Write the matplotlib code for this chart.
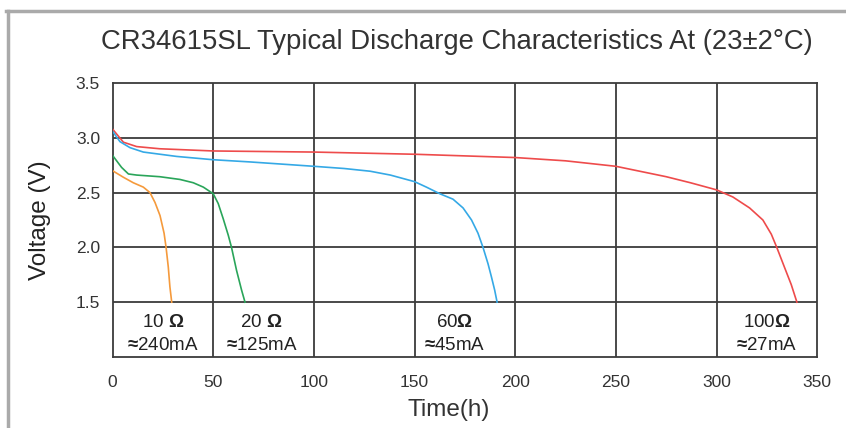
import numpy as np
import matplotlib
matplotlib.use('Agg')
import matplotlib.pyplot as plt
from matplotlib.lines import Line2D

plt.rcParams['font.family'] = ['Liberation Sans', 'DejaVu Sans']
plt.rcParams['mathtext.fontset'] = 'custom'
plt.rcParams['mathtext.rm'] = 'Liberation Sans'
plt.rcParams['mathtext.bf'] = 'Liberation Sans:bold'

###################
### INPUT DATA ###
###################

# 10 ohm load (~240 mA)
t_10 = [0, 5.4, 10.3, 15.3, 18.6, 21.1, 23.6, 25.6, 26.6, 27.7, 28.5, 29.4]
v_10 = [2.70, 2.64, 2.59, 2.55, 2.50, 2.41, 2.29, 2.13, 2.00, 1.82, 1.64, 1.50]

# 20 ohm load (~125 mA)
t_20 = [0, 4.5, 7.9, 12, 23.5, 33.5, 40.1, 45.1, 50, 52.5, 55, 57.5, 59.1,
        61.6, 64.1, 65.8]
v_20 = [2.84, 2.73, 2.67, 2.66, 2.645, 2.62, 2.59, 2.55, 2.49, 2.40, 2.26,
        2.11, 2.00, 1.79, 1.61, 1.50]

# 60 ohm load (~45 mA)
t_60 = [0, 3.7, 8.7, 15.3, 31.9, 50, 68.2, 100, 115, 128, 138, 150, 155.9, 162.5,
        169.1, 174.1, 178.3, 181.5, 184, 186.5, 188.2, 189.8, 191]
v_60 = [3.06, 2.965, 2.91, 2.87, 2.83, 2.80, 2.78, 2.74, 2.72, 2.695, 2.66, 2.60,
        2.55, 2.49, 2.44, 2.36, 2.25, 2.13, 2.00, 1.85, 1.73, 1.61, 1.50]

# 100 ohm load (~27 mA)
t_100 = [0, 5.4, 12, 23.5, 50, 100, 150, 200, 225, 250, 275, 287, 300,
         308.1, 316.4, 323, 327.2, 329.9, 333.7, 337.1, 339.9]
v_100 = [3.08, 2.96, 2.92, 2.90, 2.88, 2.87, 2.85, 2.82, 2.79, 2.74, 2.645,
         2.59, 2.525, 2.46, 2.36, 2.25, 2.12, 2.00, 1.82, 1.66, 1.50]

load_labels = [r'10 $\mathbf{Ω}$', r'20 $\mathbf{Ω}$', r'60$\mathbf{Ω}$', r'100$\mathbf{Ω}$']
current_labels = [r'$\mathbf{≈}$240mA', r'$\mathbf{≈}$125mA', r'$\mathbf{≈}$45mA', r'$\mathbf{≈}$27mA']
label_x = [25, 74, 170, 325]

x_ticks = [0, 50, 100, 150, 200, 250, 300, 350]
y_ticks = [1.5, 2.0, 2.5, 3.0, 3.5]

####################
### PLOT RESULTS ###
####################

fig = plt.figure(figsize=(8.46, 4.28), dpi=100)
ax = fig.add_axes([0.133, 0.166, 0.833, 0.640])

grid_c = '#3c3c3c'
for x in x_ticks[1:-1]:
    ax.axvline(x, color=grid_c, lw=1.3, zorder=1)
for y in y_ticks[:-1]:
    ax.axhline(y, color=grid_c, lw=1.3, zorder=1)

ax.plot(t_100, v_100, color='#ee4b4b', lw=1.2, zorder=3)
ax.plot(t_60, v_60, color='#35a9e6', lw=1.2, zorder=3)
ax.plot(t_20, v_20, color='#2aa55a', lw=1.2, zorder=3)
ax.plot(t_10, v_10, color='#f59a3c', lw=1.2, zorder=3)

for x, l1, l2 in zip(label_x, load_labels, current_labels):
    ax.text(x, 1.31, l1, ha='center', va='center', fontsize=13.5, color='#222222')
    ax.text(x, 1.10, l2, ha='center', va='center', fontsize=13.5, color='#222222')

ax.set_xlim(0, 350)
ax.set_ylim(1.0, 3.5)
ax.set_xticks(x_ticks)
ax.set_yticks(y_ticks)
ax.set_yticklabels(['%.1f' % y for y in y_ticks])
ax.tick_params(length=0, labelsize=12.5, colors='#333333')
ax.tick_params(axis='x', pad=13)
ax.tick_params(axis='y', pad=9)
for s in ax.spines.values():
    s.set_color(grid_c)
    s.set_linewidth(1.3)

ax.set_xlabel('Time(h)', fontsize=17.5, color='#333333')
ax.set_ylabel('Voltage (V)', fontsize=17.5, color='#222222')
ax.xaxis.set_label_coords(0.477, -0.195)
ax.xaxis.label.set_va('center')
ax.yaxis.set_label_coords(-0.103, 0.5)
ax.yaxis.label.set_va('center')

fig.text(0.540, 0.902, 'CR34615SL Typical Discharge Characteristics At (23±2°C)',
         ha='center', va='center', fontsize=19.8, color='#333333')

# outer frame
fig.add_artist(Line2D([0.007, 1.0], [0.975, 0.975], color='#aaaaaa', lw=2.5))
fig.add_artist(Line2D([0.0095, 0.0095], [0.0, 0.975], color='#aaaaaa', lw=2.5))

fig.savefig('out.png', dpi=100)
